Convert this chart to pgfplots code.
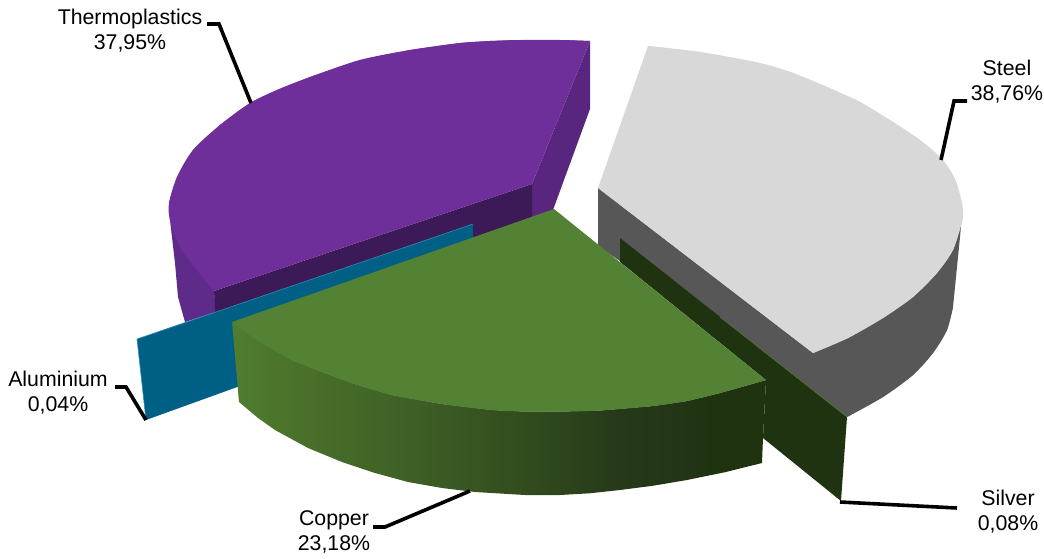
\documentclass[border=0pt]{standalone}
\usepackage{fontspec}
\setmainfont{Liberation Sans}
\usepackage{pgfplots}
\pgfplotsset{compat=1.18}

\definecolor{purpletop}{HTML}{6E2F9A}
\definecolor{purpleside}{HTML}{5E2B8A}
\definecolor{purplecut}{HTML}{58267F}
\definecolor{purpledark}{HTML}{3B1A57}
\definecolor{bluebar}{HTML}{005F85}
\definecolor{bluerim}{HTML}{2A8FB0}
\definecolor{steeltop}{HTML}{D8D8D8}
\definecolor{steelside}{HTML}{575757}
\definecolor{silverdark}{HTML}{203311}
\definecolor{greentop}{HTML}{548235}
\definecolor{g1}{HTML}{4F7D30}
\definecolor{g2}{HTML}{4A7029}
\definecolor{g3}{HTML}{3F6126}
\definecolor{g4}{HTML}{324C1E}
\definecolor{g5}{HTML}{26391A}
\definecolor{g6}{HTML}{203311}
\pgfdeclarehorizontalshading{copperside}{100bp}{color(0bp)=(g1); color(25bp)=(g1); color(31.4bp)=(g2); color(40.7bp)=(g3); color(52.4bp)=(g4); color(61.3bp)=(g5); color(69.8bp)=(g6); color(100bp)=(g6)}
\tikzset{
    lab/.style={font=\fontsize{21.3}{25}\selectfont, align=center, text=black, inner sep=0pt},
    leader/.style={draw=black, line width=3.6pt},
}

\begin{document}
\begin{tikzpicture}
\begin{axis}[
    scale only axis, width=1044pt, height=558pt,
    xmin=0, xmax=1044, ymin=0, ymax=558,
    y dir=reverse, hide axis, clip=false,
    every axis plot/.append style={draw=none, line join=miter, mark=none},
]
\path (axis cs:0,0) rectangle (axis cs:1044,558);
% Thermoplastics: outer side, cut face, inner face, top
\addplot[fill=purpleside] coordinates {(169,203) (170,220) (175,263) (178,297) (185,322) (216,312) (214,291)} -- cycle;
\addplot[fill=purplecut] coordinates {(532,184) (590,41) (590,109) (553,210) (532,217)} -- cycle;
\addplot[fill=purpledark] coordinates {(214,291) (532,184) (532,240) (216,325)} -- cycle;
\addplot[fill=purpletop] coordinates {(532,184) (590,41) (560,40) (520,40) (490,41) (460,43) (410,50) (360,60) (310,77) (277,90) (250,103) (220,125) (193,150) (177,177) (169,203) (170,220) (180,247) (197,270) (214,291)} -- cycle;
\addplot[smooth, fill=purpletop] coordinates {(590,41) (560,40) (520,40) (490,41) (460,43) (410,50) (360,60) (310,77) (277,90) (250,103) (220,125) (193,150) (177,177) (169,203) (170,220) (180,247) (197,270) (214,291)} -- cycle;
% Aluminium
\addplot[fill=bluebar] coordinates {(137,339) (473,224) (473,240) (240,386) (146,420)} -- cycle;
\addplot[draw=bluerim, line width=0.6pt] coordinates {(146,420) (137,339) (473,224)};
% Steel
\addplot[fill=steelside] coordinates {(598,188) (813,353) (962,215) (960,237) (953,307) (947,330) (933,353) (913,375) (883,397) (847,417) (598,246)} -- cycle;
\addplot[smooth, fill=steelside] coordinates {(953,307) (947,330) (933,353) (913,375) (883,397) (847,417)} -- cycle;
\addplot[fill=steeltop] coordinates {(598,188) (648,46) (700,52) (760,63) (793,73) (827,87) (860,102) (893,122) (920,140) (942,159) (955,179) (962,203) (963,215) (962,222) (953,250) (937,273) (913,297) (883,318) (848,338) (813,353)} -- cycle;
\addplot[smooth, fill=steeltop] coordinates {(648,46) (700,52) (760,63) (793,73) (827,87) (860,102) (893,122) (920,140) (942,159) (955,179) (962,203) (963,215) (962,222) (953,250) (937,273) (913,297) (883,318) (848,338) (813,353)} -- cycle;
% Silver
\addplot[fill=silverdark] coordinates {(620,238) (847,417) (841,501) (763,438) (766,380) (620,262)} -- cycle;
\addplot[draw=greentop, line width=0.5pt] coordinates {(720,317) (847,417)};
% Copper
\addplot[shading=copperside] coordinates {(232,322) (258,341) (292,360) (325,373) (358,385) (392,395) (442,404) (492,410) (525,411.5) (560,411.5) (600,410.5) (653,406) (687,401) (720,393) (766,380) (763,438) (762,463) (725,472.2) (687,480) (652.6,485.8) (620,490) (589.6,493.3) (560,495) (525,495) (475,492) (442,488) (408,482) (375,473) (342,462) (308,448) (275,430) (258,418) (239,402)} -- cycle;
\addplot[fill=greentop] coordinates {(554,209) (766,380) (720,393) (687,401) (653,406) (600,410.5) (560,411.5) (525,411.5) (492,410) (442,404) (392,395) (358,385) (325,373) (292,360) (258,341) (232,322)} -- cycle;
\addplot[smooth, fill=greentop] coordinates {(766,380) (720,393) (687,401) (653,406) (600,410.5) (560,411.5) (525,411.5) (492,410) (442,404) (392,395) (358,385) (325,373) (292,360) (258,341) (232,322)} -- cycle;
% leader lines
\addplot[leader] coordinates {(207,24) (219,24) (251,103)};
\addplot[leader] coordinates {(967,101) (954,101) (941,160)};
\addplot[leader] coordinates {(840,502) (957,508)};
\addplot[leader] coordinates {(373,527) (385,527) (470,491)};
\addplot[leader] coordinates {(115,387) (126,387) (146,420)};
% labels
\node[lab] at (axis cs:130,31) {Thermoplastics\\37,95\%};
\node[lab] at (axis cs:1007,82) {Steel\\38,76\%};
\node[lab] at (axis cs:1008,512) {Silver\\0,08\%};
\node[lab] at (axis cs:334,532) {Copper\\23,18\%};
\node[lab] at (axis cs:58,393) {Aluminium\\0,04\%};
\end{axis}
\end{tikzpicture}
\end{document}
